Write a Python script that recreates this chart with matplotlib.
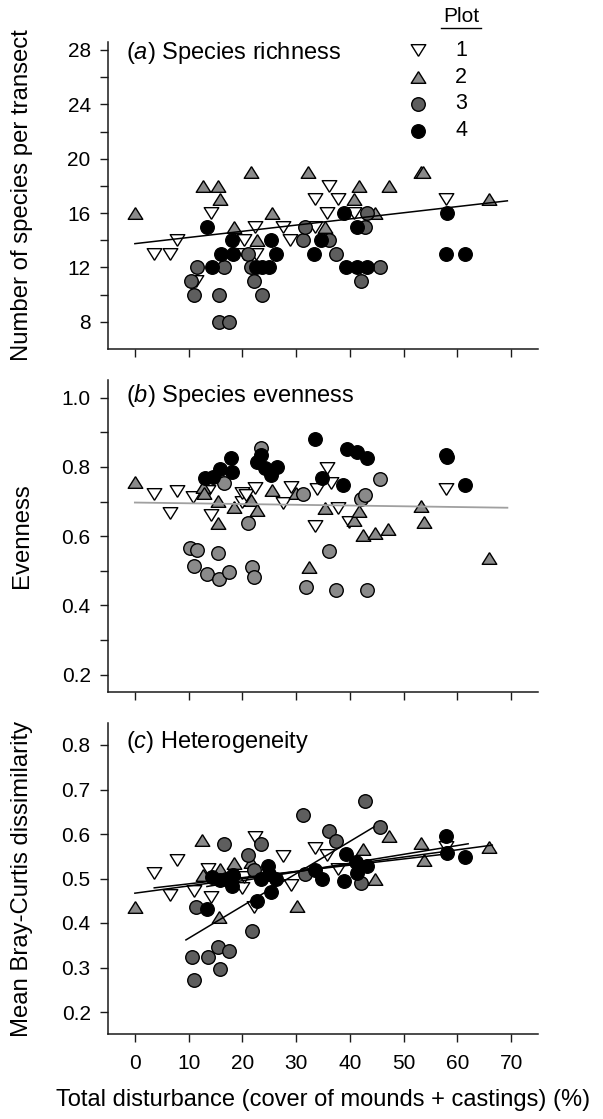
import matplotlib
matplotlib.use('Agg')
import matplotlib.pyplot as plt
import numpy as np
from matplotlib.lines import Line2D
from matplotlib.ticker import FixedLocator, FormatStrFormatter

plt.rcParams['font.family'] = ['Liberation Sans', 'DejaVu Sans']
plt.rcParams['mathtext.fontset'] = 'custom'
plt.rcParams['mathtext.it'] = 'Liberation Sans:italic'
plt.rcParams['mathtext.rm'] = 'Liberation Sans'

# ---------------- data ----------------
plots = ['1', '2', '3', '4']

# (a) Species richness
a1_x = [3.6, 6.6, 7.8, 11.3, 14.1, 20.3, 20.3, 22.4, 22.5, 27.6, 28.9, 33.6, 33.6, 35.8, 36.2, 37.7, 40.8, 57.9]
a1_y = [13, 13, 14, 11, 16, 14, 13, 15, 13, 15, 14, 17, 15, 16, 18, 17, 16, 17]
a2_x = [0.0, 12.6, 15.5, 15.8, 18.5, 21.6, 22.7, 25.6, 32.3, 35.3, 40.8, 41.7, 44.6, 47.3, 53.3, 53.6, 65.9]
a2_y = [16, 18, 18, 17, 15, 19, 14, 16, 19, 15, 17, 18, 16, 18, 19, 19, 17]
a3_x = [10.4, 11.0, 11.5, 15.7, 15.7, 17.5, 16.6, 21.1, 21.6, 22.2, 23.7, 31.2, 31.6, 36.1, 37.5, 42.0, 42.9, 43.1, 45.6]
a3_y = [11, 10, 12, 10, 8, 8, 12, 13, 12, 11, 10, 14, 15, 14, 13, 11, 15, 16, 12]
a4_x = [13.4, 14.4, 16.0, 18.0, 18.2, 22.5, 23.7, 25.0, 25.4, 26.3, 33.3, 34.6, 38.9, 39.3, 41.3, 41.4, 43.2, 57.9, 58.1, 61.4]
a4_y = [15, 12, 13, 14, 13, 12, 12, 12, 14, 13, 13, 14, 16, 12, 15, 12, 12, 13, 16, 13]
a_fit_x = [0.0, 69.3]
a_fit_y = [13.75, 16.9]

# (b) Species evenness
b1_x = [3.6, 6.6, 7.8, 10.9, 13.6, 14.1, 20.0, 20.0, 20.7, 22.3, 27.5, 29.1, 33.5, 33.8, 35.8, 36.4, 37.7, 39.8, 57.9]
b1_y = [0.722, 0.666, 0.731, 0.714, 0.731, 0.661, 0.700, 0.725, 0.719, 0.738, 0.697, 0.743, 0.629, 0.735, 0.798, 0.754, 0.680, 0.642, 0.735]
b2_x = [0.0, 12.6, 12.9, 15.5, 15.5, 18.5, 21.6, 22.7, 25.6, 29.9, 32.4, 35.3, 40.8, 41.7, 42.5, 44.6, 47.1, 53.3, 53.8, 65.9]
b2_y = [0.755, 0.741, 0.725, 0.701, 0.639, 0.683, 0.704, 0.675, 0.733, 0.725, 0.512, 0.680, 0.647, 0.673, 0.603, 0.608, 0.620, 0.687, 0.642, 0.536]
b3_x = [10.3, 11.5, 11.0, 13.5, 15.5, 15.7, 16.6, 17.5, 21.1, 21.7, 22.2, 23.5, 31.2, 31.8, 36.1, 37.4, 42.0, 42.9, 43.1, 45.6]
b3_y = [0.565, 0.560, 0.514, 0.490, 0.552, 0.475, 0.754, 0.497, 0.637, 0.512, 0.483, 0.855, 0.721, 0.452, 0.557, 0.444, 0.706, 0.719, 0.444, 0.765]
b4_x = [13.0, 14.6, 15.8, 17.8, 18.0, 22.7, 23.4, 24.3, 25.4, 26.5, 33.6, 34.8, 38.8, 39.4, 41.3, 43.2, 57.9, 58.1, 61.4]
b4_y = [0.767, 0.772, 0.793, 0.825, 0.784, 0.815, 0.834, 0.796, 0.777, 0.799, 0.881, 0.769, 0.748, 0.852, 0.844, 0.825, 0.834, 0.828, 0.748]
b_fit_x = [0.0, 69.3]
b_fit_y = [0.697, 0.682]

# (c) Heterogeneity
c1_x = [3.6, 6.6, 7.8, 11.0, 13.6, 14.1, 20.0, 20.3, 22.1, 22.3, 27.5, 29.1, 33.5, 35.8, 37.7, 57.9]
c1_y = [0.513, 0.463, 0.542, 0.472, 0.521, 0.459, 0.478, 0.504, 0.437, 0.593, 0.551, 0.485, 0.568, 0.553, 0.521, 0.571]
c2_x = [0.0, 12.4, 12.6, 15.7, 15.9, 18.5, 21.6, 30.2, 42.5, 44.6, 47.3, 53.3, 53.8, 65.9]
c2_y = [0.437, 0.587, 0.508, 0.414, 0.521, 0.534, 0.538, 0.438, 0.566, 0.500, 0.596, 0.580, 0.542, 0.571]
c3_x = [10.7, 11.0, 11.3, 13.6, 15.5, 15.8, 16.6, 17.5, 21.1, 21.7, 22.1, 23.5, 31.2, 31.6, 36.1, 37.5, 42.0, 42.9, 45.6]
c3_y = [0.324, 0.273, 0.435, 0.323, 0.347, 0.297, 0.578, 0.337, 0.553, 0.382, 0.518, 0.577, 0.643, 0.509, 0.607, 0.584, 0.491, 0.674, 0.615]
c4_x = [13.4, 14.4, 15.9, 16.9, 18.0, 18.3, 22.7, 23.4, 24.7, 24.9, 25.4, 26.2, 33.6, 34.8, 38.9, 39.3, 41.1, 41.4, 43.2, 57.9, 58.1, 61.4]
c4_y = [0.431, 0.504, 0.497, 0.500, 0.483, 0.508, 0.450, 0.500, 0.528, 0.510, 0.470, 0.500, 0.519, 0.500, 0.495, 0.555, 0.538, 0.512, 0.528, 0.596, 0.558, 0.549]
c_fit1_x = [3.6, 57.9]
c_fit1_y = [0.479, 0.555]
c_fit2_x = [0.0, 66.5]
c_fit2_y = [0.467, 0.575]
c_fit3_x = [9.5, 44.5]
c_fit3_y = [0.362, 0.616]
c_fit4_x = [13.4, 62.0]
c_fit4_y = [0.482, 0.578]

x_ticks = [0, 10, 20, 30, 40, 50, 60, 70]

# ---------------- styles ----------------
tri_up = [(0, 0.8), (-1, -0.8), (1, -0.8), (0, 0.8)]
tri_dn = [(0, -0.8), (-1, 0.8), (1, 0.8), (0, -0.8)]
GRAY_T = '#8a8a8a'
GRAY_C = '#5e5e5e'
styles = {
    '1': dict(marker=tri_dn, facecolor='white', s=110),
    '2': dict(marker=tri_up, facecolor=GRAY_T, s=110),
    '3': dict(marker='o', facecolor=GRAY_C, s=95),
    '4': dict(marker='o', facecolor='black', s=95),
}

fig = plt.figure(figsize=(6.03, 11.19), dpi=100)
L, W = 108 / 603, 430 / 603
ax_a = fig.add_axes([L, 1 - 349 / 1119, W, 307.2 / 1119])
ax_b = fig.add_axes([L, 1 - 691.8 / 1119, W, 311.4 / 1119])
ax_c = fig.add_axes([L, 1 - 1034.25 / 1119, W, 311.5 / 1119])

TICK_FS = 15
LABEL_FS = 17.2
for ax in (ax_a, ax_b, ax_c):
    for sp in ('top', 'right'):
        ax.spines[sp].set_visible(False)
    for sp in ('left', 'bottom'):
        ax.spines[sp].set_linewidth(1.1)
        ax.spines[sp].set_color('#1a1a1a')
    ax.set_xlim(-5, 75)
    ax.set_xticks(x_ticks)
    ax.tick_params(which='both', direction='out', length=5.5, width=1.0, color='#1a1a1a',
                   labelsize=TICK_FS, pad=7)
    ax.tick_params(axis='x', pad=9)

ax_a.tick_params(axis='x', labelbottom=False)
ax_b.tick_params(axis='x', labelbottom=False)


def draw(ax, data, face3=GRAY_C):
    for key, (xs, ys) in zip(plots, data):
        st = dict(styles[key])
        if key == '3':
            st['facecolor'] = face3
        ax.scatter(xs, ys, edgecolors='black', linewidths=1.0, zorder=3, clip_on=False, **st)


# (a)
draw(ax_a, [(a1_x, a1_y), (a2_x, a2_y), (a3_x, a3_y), (a4_x, a4_y)])
ax_a.plot(a_fit_x, a_fit_y, color='black', lw=1.1, zorder=4)
ax_a.set_ylim(6, 28.6)
ax_a.yaxis.set_major_locator(FixedLocator([8, 12, 16, 20, 24, 28]))
ax_a.yaxis.set_minor_locator(FixedLocator([10, 14, 18, 22, 26]))
ax_a.set_ylabel('Number of species per transect', fontsize=LABEL_FS)

# (b)
draw(ax_b, [(b1_x, b1_y), (b2_x, b2_y), (b3_x, b3_y), (b4_x, b4_y)], face3=GRAY_T)
ax_b.plot(b_fit_x, b_fit_y, color='#a0a0a0', lw=1.3, zorder=4)
ax_b.set_ylim(0.15, 1.05)
ax_b.yaxis.set_major_locator(FixedLocator([0.2, 0.4, 0.6, 0.8, 1.0]))
ax_b.yaxis.set_minor_locator(FixedLocator([0.3, 0.5, 0.7, 0.9]))
ax_b.yaxis.set_major_formatter(FormatStrFormatter('%.1f'))
ax_b.set_ylabel('Evenness', fontsize=LABEL_FS)

# (c)
draw(ax_c, [(c1_x, c1_y), (c2_x, c2_y), (c3_x, c3_y), (c4_x, c4_y)])
for fx, fy in [(c_fit1_x, c_fit1_y), (c_fit2_x, c_fit2_y), (c_fit3_x, c_fit3_y), (c_fit4_x, c_fit4_y)]:
    ax_c.plot(fx, fy, color='black', lw=1.1, zorder=4)
ax_c.set_ylim(0.15, 0.85)
ax_c.yaxis.set_major_locator(FixedLocator([0.2, 0.3, 0.4, 0.5, 0.6, 0.7, 0.8]))
ax_c.yaxis.set_major_formatter(FormatStrFormatter('%.1f'))
ax_c.set_ylabel('Mean Bray-Curtis dissimilarity', fontsize=LABEL_FS)

for ax in (ax_a, ax_b, ax_c):
    ax.yaxis.set_label_coords(-0.175, 0.5)

# panel titles
TITLE_FS = 17
ax_a.text(0.042, 0.9635, r'($\it{a}$) Species richness', transform=ax_a.transAxes,
          va='center', ha='left', fontsize=TITLE_FS)
ax_b.text(0.042, 0.95, r'($\it{b}$) Species evenness', transform=ax_b.transAxes,
          va='center', ha='left', fontsize=TITLE_FS)
ax_c.text(0.042, 0.938, r'($\it{c}$) Heterogeneity', transform=ax_c.transAxes,
          va='center', ha='left', fontsize=TITLE_FS)

# legend (manual, in axes coordinates of panel a)
leg_mx, leg_tx = 0.721, 0.821
leg_rows = [0.973, 0.885, 0.798, 0.710]
for key, yy in zip(plots, leg_rows):
    ax_a.scatter([leg_mx], [yy], transform=ax_a.transAxes, edgecolors='black',
                 linewidths=1.0, clip_on=False, zorder=5, **styles[key])
    ax_a.text(leg_tx, yy, key, transform=ax_a.transAxes, ha='center', va='center',
              fontsize=TICK_FS + 0.5)
ax_a.text(leg_tx, 1.081, 'Plot', transform=ax_a.transAxes, ha='center', va='center',
          fontsize=TICK_FS)
ax_a.add_line(Line2D([0.775, 0.867], [1.046, 1.046], transform=ax_a.transAxes,
                     color='black', lw=1.0, clip_on=False))

fig.text(323 / 603, 1 - 1100 / 1119, 'Total disturbance (cover of mounds + castings) (%)',
         ha='center', va='center', fontsize=17)

fig.savefig('out.png', dpi=100)
